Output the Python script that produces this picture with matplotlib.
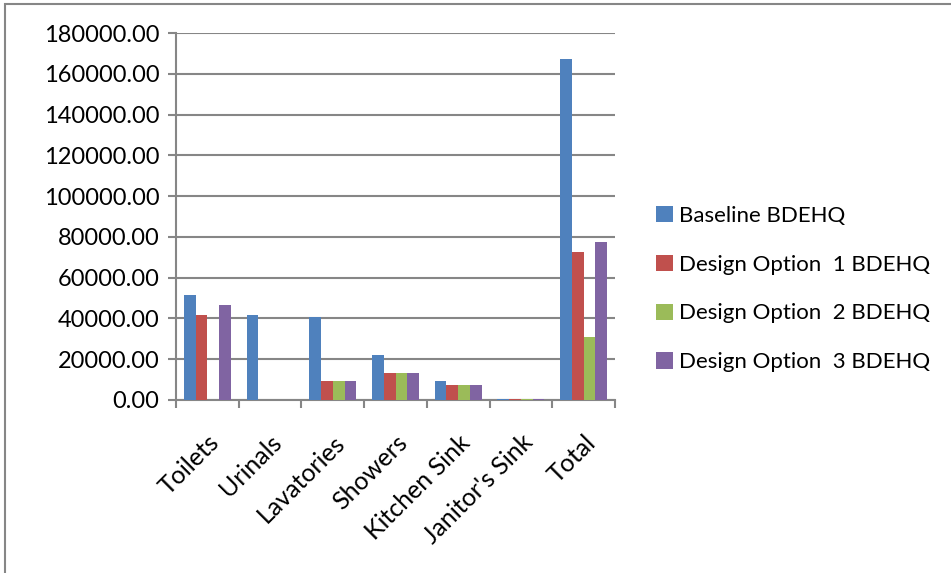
import numpy as np
import matplotlib.pyplot as plt
from matplotlib.patches import Rectangle

categories = ['Toilets', 'Urinals', 'Lavatories', 'Showers', 'Kitchen Sink', "Janitor's Sink", 'Total']
baseline = [51300, 41500, 40700, 22000, 9500, 600, 167200]
option1 = [41500, 0, 9500, 13400, 7400, 600, 72700]
option2 = [0, 0, 9500, 13400, 7400, 600, 30900]
option3 = [46400, 0, 9500, 13400, 7400, 600, 77600]
series_names = ['Baseline BDEHQ', 'Design Option  1 BDEHQ', 'Design Option  2 BDEHQ', 'Design Option  3 BDEHQ']
colors = ['#4F81BD', '#C0504D', '#9BBB59', '#8064A2']

plt.rcParams['font.family'] = ['Lato', 'DejaVu Sans']
grey = '#868686'

fig = plt.figure(figsize=(9.51, 5.73), dpi=100)
ax = fig.add_axes([176 / 951, 1 - 400 / 573, (615 - 176) / 951, (400 - 33) / 573])

x = np.arange(len(categories))
w = 0.1875
for i, (vals, name, c) in enumerate(zip([baseline, option1, option2, option3], series_names, colors)):
    ax.bar(x + (i - 1.5) * w, vals, width=w, color=c, label=name, zorder=3)

ax.set_xlim(-0.5, len(categories) - 0.5)
ax.set_ylim(0, 180000)
ax.set_yticks(np.arange(0, 180001, 20000))
ax.set_yticklabels([f'{v:.2f}' for v in np.arange(0, 180001, 20000)], fontsize=17)
ax.yaxis.grid(True, color=grey, linewidth=1.5, zorder=0)
ax.set_xticks(np.arange(-0.5, len(categories), 1))
ax.set_xticklabels([])
ax.set_xticks(x, minor=True)
ax.set_xticklabels(categories, minor=True, rotation=45, ha='right', rotation_mode='anchor', fontsize=18)
ax.tick_params(axis='x', which='minor', length=0, pad=22)
ax.tick_params(axis='x', which='major', length=6, width=1.5, color=grey)
ax.tick_params(axis='y', length=6, width=1.5, color=grey, pad=6)
for s in ['top', 'right']:
    ax.spines[s].set_visible(False)
for s in ['left', 'bottom']:
    ax.spines[s].set_color(grey)
    ax.spines[s].set_linewidth(1.5)

ax.legend(loc='center left', bbox_to_anchor=(656 / 951, 1 - 289 / 573), bbox_transform=fig.transFigure,
          frameon=False, fontsize=16, labelspacing=1.3, handlelength=0.75, handleheight=0.75, handletextpad=0.3,
          borderaxespad=0, borderpad=0)

fig.patches.append(Rectangle((5 / 951, -0.1), 1.2, 1 - 4 / 573 + 0.1, transform=fig.transFigure,
                             fill=False, edgecolor=grey, linewidth=1.5))

fig.savefig('out.png', dpi=100)
